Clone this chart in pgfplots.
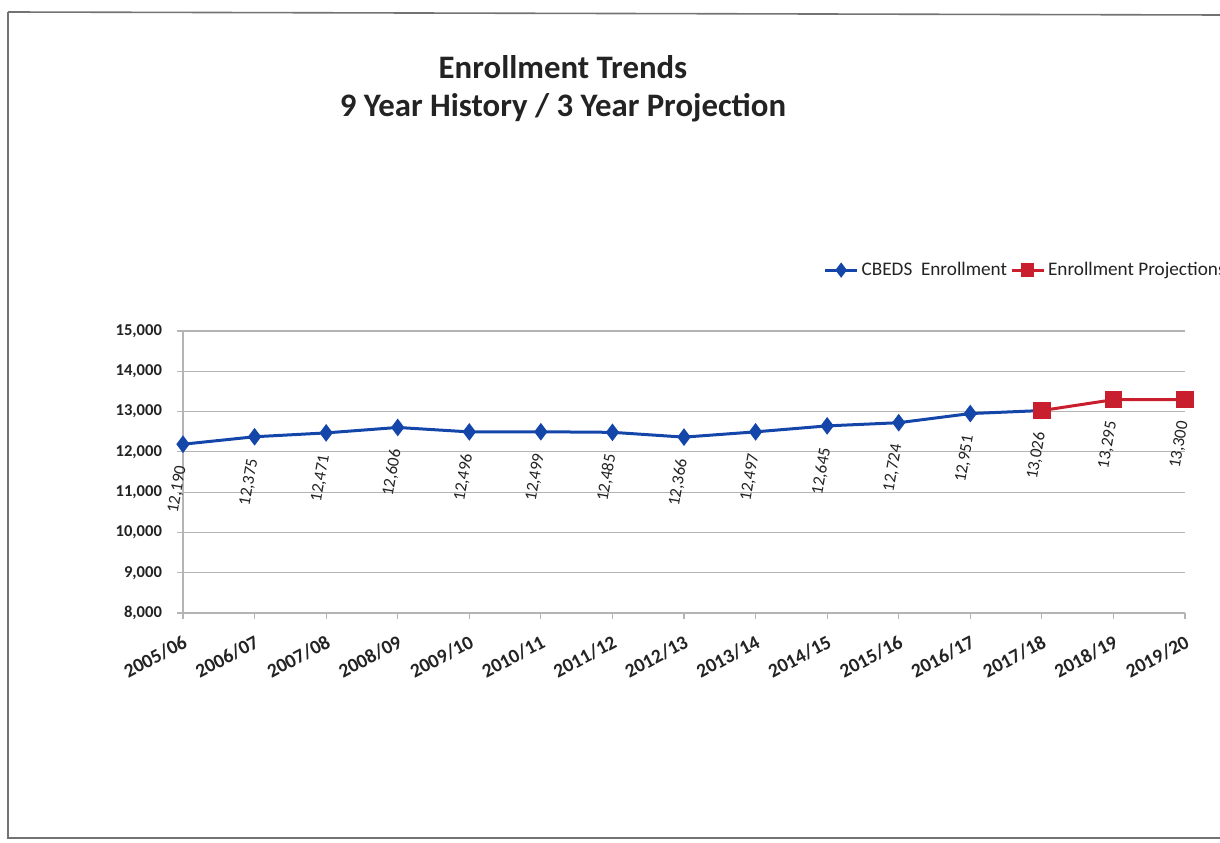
\documentclass[border=0pt]{standalone}
\usepackage{pgfplots}
\pgfplotsset{compat=1.18}
\usepackage{fontspec}
\setmainfont{Carlito}
\definecolor{cblue}{RGB}{20,70,170}
\definecolor{cred}{RGB}{200,30,45}
\definecolor{gridgray}{RGB}{180,180,180}
\definecolor{txt}{RGB}{35,35,35}
\begin{document}
\begin{tikzpicture}
\useasboundingbox (0pt,0pt) rectangle (610pt,421pt);
\draw[black!55, line width=0.8pt] (4pt,415pt) -- (610pt,413.5pt);
\draw[black!55, line width=0.8pt] (4pt,415pt) -- (4pt,2pt) -- (610pt,2pt);
\node[font=\fontsize{16.4}{19}\selectfont\bfseries, align=center, text=txt] at (281.5pt,376.5pt) {Enrollment Trends\\9 Year History / 3 Year Projection};
\begin{axis}[
  at={(91.5pt,114.5pt)}, anchor=south west,
  width=501pt, height=141pt, scale only axis,
  xmin=0, xmax=14, ymin=8000, ymax=15000,
  xtick={0,...,14},
  xticklabels={2005/06,2006/07,2007/08,2008/09,2009/10,2010/11,2011/12,2012/13,2013/14,2014/15,2015/16,2016/17,2017/18,2018/19,2019/20},
  ytick={8000,9000,10000,11000,12000,13000,14000,15000},
  /pgf/number format/.cd, 1000 sep={,}, assume math mode=true, /pgfplots/.cd,
  scaled y ticks=false,
  ymajorgrids, grid style={gridgray, line width=0.6pt},
  axis x line*=bottom, axis y line*=left,
  axis line style={gridgray, line width=0.6pt},
  tick align=outside, major tick length=3pt, tick style={gridgray, line width=0.6pt},
  x tick label style={yshift=-6pt, rotate=28, anchor=north east, font=\fontsize{9.8}{11}\selectfont\bfseries, text=txt, inner sep=1pt},
  y tick label style={xshift=-4pt, font=\fontsize{8.3}{10}\selectfont\bfseries, text=txt},
  clip=false,
  legend style={at={(0.633,1.216)}, anchor=west, draw=none, fill=none,
    font=\fontsize{9.6}{11}\selectfont, text=txt, legend columns=2,
    /tikz/every even column/.append style={column sep=0pt},
    nodes={inner xsep=1.5pt}},
  legend image code/.code={\draw[#1, mark size=2.6pt] (0pt,0pt) -- (16pt,0pt) plot coordinates {(8pt,0pt)};},
  legend cell align=left,
  every node near coord/.append style={yshift=-7pt, rotate=80, anchor=east, font=\fontsize{8.5}{10}\selectfont, text=txt},
]
\addplot[cblue, line width=1.5pt, mark=diamond*, mark size=3.2pt, mark options={fill=cblue},
  nodes near coords, point meta=explicit symbolic] coordinates {
  (0,12190) [12,190]
  (1,12375) [12,375]
  (2,12471) [12,471]
  (3,12606) [12,606]
  (4,12496) [12,496]
  (5,12499) [12,499]
  (6,12485) [12,485]
  (7,12366) [12,366]
  (8,12497) [12,497]
  (9,12645) [12,645]
  (10,12724) [12,724]
  (11,12951) [12,951]
  (12,13026) [13,026]
};
\addlegendentry{CBEDS\ \ Enrollment}
\addplot[cred, line width=1.5pt, mark=square*, mark size=3.6pt, mark options={fill=cred},
  nodes near coords, point meta=explicit symbolic] coordinates {
  (12,13026) []
  (13,13295) [13,295]
  (14,13300) [13,300]
};
\addlegendentry{Enrollment Projections}
\end{axis}
\end{tikzpicture}
\end{document}
